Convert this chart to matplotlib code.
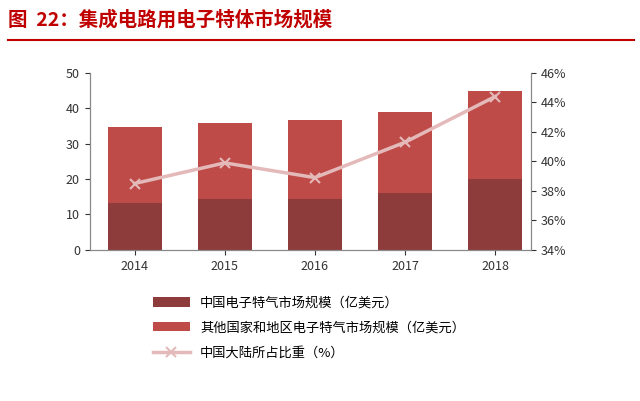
import matplotlib.pyplot as plt

plt.rcParams['font.family'] = ['Noto Sans CJK SC', 'DejaVu Sans']

years = ['2014', '2015', '2016', '2017', '2018']
china = [13.3, 14.3, 14.3, 16.0, 20.0]
total = [34.8, 35.8, 36.8, 39.0, 45.0]
others = [t - c for t, c in zip(total, china)]
share = [38.5, 39.9, 38.9, 41.3, 44.4]

fig = plt.figure(figsize=(6.4, 4.01), dpi=100)
fig.text(0.012, 0.975, '图  22：集成电路用电子特体市场规模', color='#C00000',
         fontsize=14, fontweight='bold', va='top')
fig.add_artist(plt.Line2D([0.012, 0.99], [0.9, 0.9], color='#C00000', lw=1.5))

ax = fig.add_axes([0.14, 0.377, 0.69, 0.441])
x = range(len(years))
b1 = ax.bar(x, china, width=0.6, color='#8E3B3B', label='中国电子特气市场规模（亿美元）')
b2 = ax.bar(x, others, width=0.6, bottom=china, color='#BE4B48',
            label='其他国家和地区电子特气市场规模（亿美元）')
ax.set_ylim(0, 50)
ax.set_xticks(list(x))
ax.set_xticklabels(years)
ax.set_xlim(-0.5, 4.4)

ax2 = ax.twinx()
l1, = ax2.plot(list(x), share, color='#E4B9B9', lw=2.5, marker='x', ms=7,
               mew=1.5, label='中国大陆所占比重（%）')
ax2.set_ylim(34, 46)
ax2.set_yticks(range(34, 47, 2))
ax2.set_yticklabels([f'{v}%' for v in range(34, 47, 2)])

for a in (ax, ax2):
    for s in a.spines.values():
        s.set_color('#888888')
    a.spines['top'].set_visible(False)
    a.tick_params(labelsize=9, colors='#333333', direction='out')

fig.legend(handles=[b1, b2, l1], loc='upper left', bbox_to_anchor=(0.22, 0.29),
           frameon=False, fontsize=9.5, handlelength=2.8, labelspacing=0.9)
fig.savefig('out.png', dpi=100)
